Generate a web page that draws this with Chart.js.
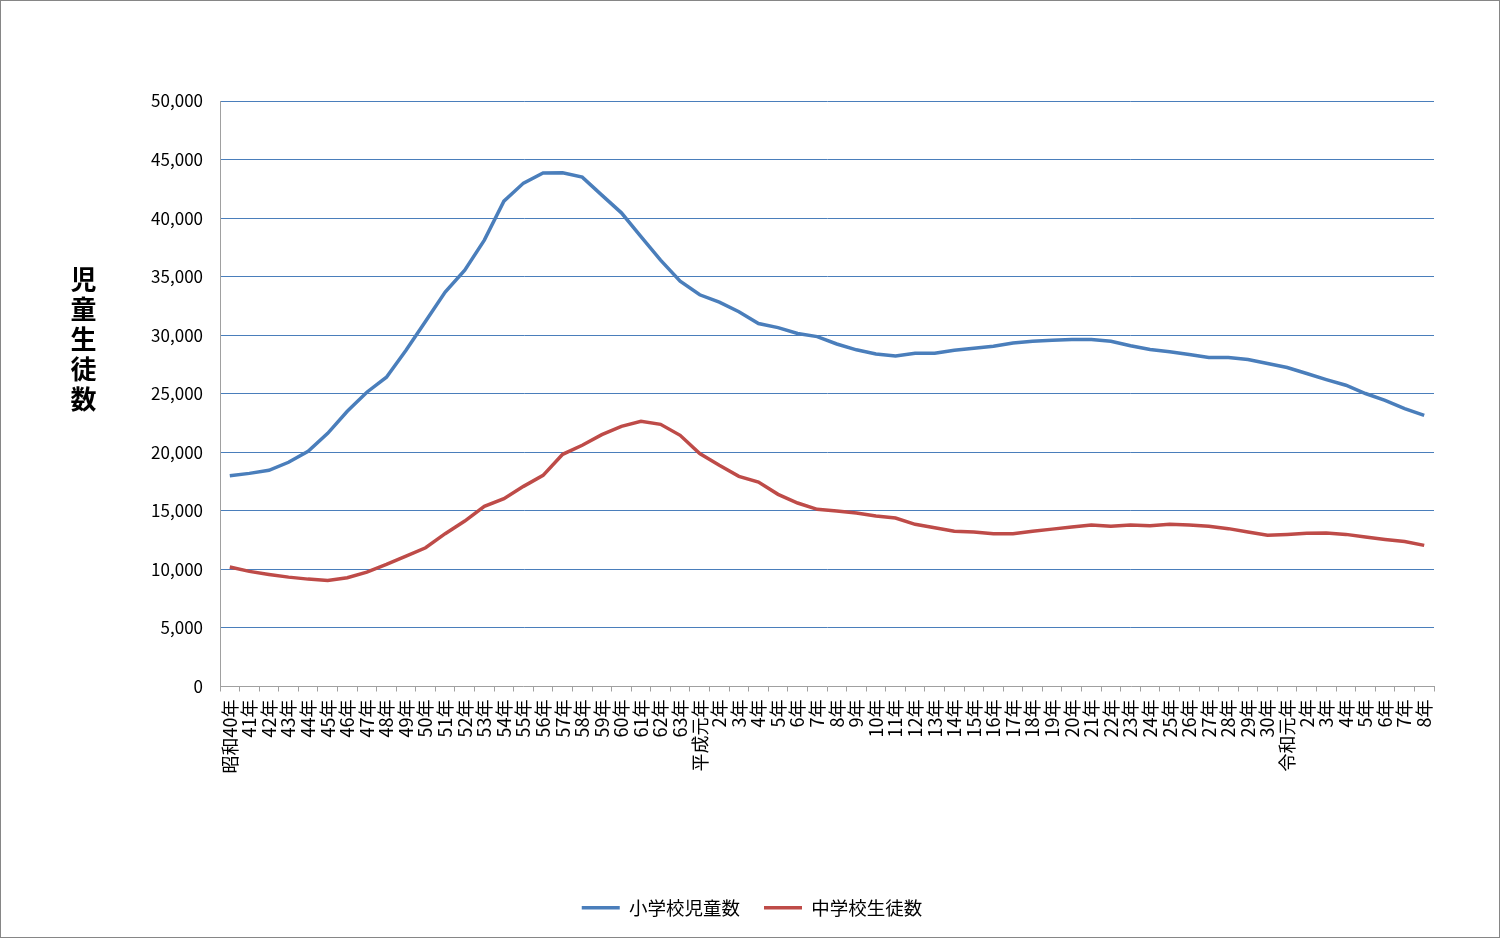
<!DOCTYPE html>
<html lang="ja">
<head>
<meta charset="utf-8">
<script src="https://cdn.jsdelivr.net/npm/chart.js@4.4.1/dist/chart.umd.min.js"></script>
<style>
  html, body { margin: 0; padding: 0; background: #fff; }
  #frame { position: relative; width: 1500px; height: 938px; box-sizing: border-box; border: 1px solid #868686; background: #fff; }
  #wrap { position: absolute; left: 0; top: 0; width: 1498px; height: 936px; }
  #ytitle {
    position: absolute; left: 64px; top: 265px;
    font: bold 26px 'Noto Sans CJK JP', sans-serif; color: #000;
    writing-mode: vertical-rl; text-orientation: upright; letter-spacing: 4px;
  }
</style>
</head>
<body>
<div id="frame">
  <div id="wrap"><canvas id="chart"></canvas></div>
  <div id="ytitle">児童生徒数</div>
</div>
<script>
const categories = [
  '昭和40年', '41年', '42年', '43年', '44年', '45年', '46年', '47年', '48年', '49年',
  '50年', '51年', '52年', '53年', '54年', '55年', '56年', '57年', '58年', '59年',
  '60年', '61年', '62年', '63年',
  '平成元年', '2年', '3年', '4年', '5年', '6年', '7年', '8年', '9年', '10年',
  '11年', '12年', '13年', '14年', '15年', '16年', '17年', '18年', '19年', '20年',
  '21年', '22年', '23年', '24年', '25年', '26年', '27年', '28年', '29年', '30年',
  '令和元年', '2年', '3年', '4年', '5年', '6年', '7年', '8年'
];

const elementary = [
  18000, 18200, 18460, 19150, 20090, 21620, 23500, 25130, 26410, 28720,
  31200, 33680, 35560, 38120, 41450, 42990, 43850, 43870, 43500, 41960,
  40450, 38420, 36410, 34620,
  33450, 32820, 32000, 31000, 30650, 30150, 29880, 29250, 28750, 28400,
  28220, 28460, 28460, 28720, 28890, 29060, 29340, 29490, 29560, 29630,
  29630, 29490, 29100, 28780, 28580, 28350, 28100, 28100, 27920, 27580,
  27240, 26730, 26210, 25730, 25020, 24440, 23730, 23160
];

const juniorHigh = [
  10200, 9830, 9570, 9340, 9170, 9060, 9290, 9770, 10430, 11140,
  11850, 13050, 14130, 15380, 16040, 17090, 18030, 19830, 20600, 21510,
  22220, 22650, 22390, 21450,
  19890, 18890, 17950, 17460, 16410, 15670, 15130, 14990, 14810, 14560,
  14390, 13850, 13560, 13250, 13190, 13050, 13050, 13250, 13440, 13620,
  13790, 13680, 13790, 13730, 13850, 13790, 13680, 13480, 13190, 12910,
  12990, 13080, 13100, 12990, 12760, 12560, 12390, 12050
];

const yTicks = [0, 5000, 10000, 15000, 20000, 25000, 30000, 35000, 40000, 45000, 50000];

const FONT = "'Noto Sans CJK JP', sans-serif";
const BLUE = '#4a7ebb';
const RED = '#be4b48';
const AXIS = '#a0a0a0';

new Chart(document.getElementById('chart'), {
  type: 'line',
  data: {
    labels: categories,
    datasets: [
      { label: '小学校児童数', data: elementary, borderColor: BLUE, backgroundColor: BLUE, borderWidth: 3.5, pointRadius: 0, tension: 0 },
      { label: '中学校生徒数', data: juniorHigh, borderColor: RED, backgroundColor: RED, borderWidth: 3.5, pointRadius: 0, tension: 0 }
    ]
  },
  options: {
    responsive: true,
    maintainAspectRatio: false,
    animation: false,
    layout: { padding: { left: 69, right: 65, top: 100, bottom: 10 } },
    plugins: {
      tooltip: { enabled: false },
      legend: {
        position: 'bottom',
        labels: {
          usePointStyle: true,
          pointStyle: 'line',
          pointStyleWidth: 38,
          boxWidth: 38,
          padding: 24,
          color: '#000',
          font: { family: FONT, size: 18.5 }
        }
      }
    },
    scales: {
      x: {
        offset: true,
        afterFit(scale) { scale.height = 188; },
        border: { color: AXIS, width: 1 },
        grid: { offset: true, drawOnChartArea: false, drawTicks: true, tickLength: 5, color: AXIS },
        ticks: { autoSkip: false, maxRotation: 90, minRotation: 90, padding: 8, color: '#000', font: { family: FONT, size: 18 } }
      },
      y: {
        min: 0,
        max: 50000,
        afterFit(scale) { scale.width = 150; },
        afterBuildTicks(scale) { scale.ticks = yTicks.map((v) => ({ value: v })); },
        border: { color: AXIS, width: 1 },
        grid: {
          drawTicks: false,
          color: (ctx) => (ctx.tick && ctx.tick.value === 0 ? 'rgba(0,0,0,0)' : BLUE)
        },
        ticks: {
          padding: 17,
          color: '#000',
          font: { family: FONT, size: 17 },
          callback: (v) => v.toLocaleString('en-US')
        }
      }
    }
  }
});
</script>
</body>
</html>
